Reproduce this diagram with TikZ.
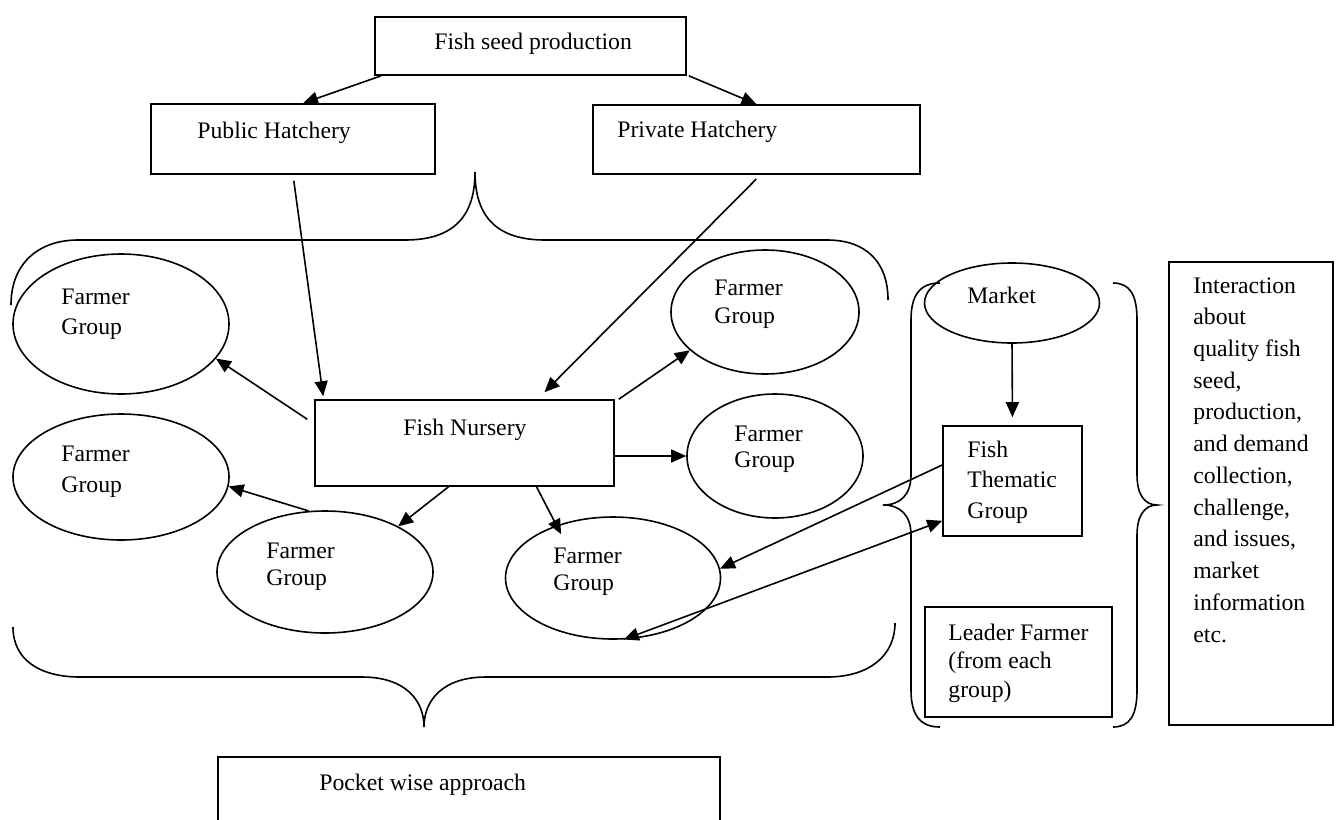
\documentclass[tikz,border=0pt]{standalone}
\usepackage{fontspec}
\setmainfont{Liberation Serif}
\usetikzlibrary{arrows.meta,shapes.geometric,calc}
\begin{document}
\begin{tikzpicture}[x=0.5pt,y=-0.5pt,
  box/.style={draw, line width=0.8pt, rectangle, inner sep=0pt},
  ell/.style={draw, line width=0.8pt, ellipse, inner sep=0pt},
  lbl/.style={anchor=base west, inner sep=0pt, align=left, font=\fontsize{11.85pt}{#1}\selectfont},
  lbl/.default=14.5pt,
  arr/.style={line width=0.8pt, -{Triangle[length=7.5pt,width=6.5pt]}},
  darr/.style={line width=0.8pt, {Triangle[length=7.5pt,width=6.5pt]}-{Triangle[length=7.5pt,width=6.5pt]}},
  brace/.style={line width=0.8pt}]
\useasboundingbox (0,0) rectangle (1336,819);
\fill[white] (0,0) rectangle (1336,819);
\clip (0,0) rectangle (1336,819);

% boxes
\node[box, minimum width=155.5pt, minimum height=29pt] (seed) at (530.5,46) {};
\node[lbl] at (434,49) {Fish seed production};
\node[box, minimum width=142pt, minimum height=35pt] (pub) at (293,139) {};
\node[lbl] at (197,138) {Public Hatchery};
\node[box, minimum width=163.5pt, minimum height=34.5pt] (priv) at (756.5,139.5) {};
\node[lbl] at (617,137) {Private Hatchery};
\node[box, minimum width=149.5pt, minimum height=43pt] (nur) at (464.5,443) {};
\node[lbl] at (403,435) {Fish Nursery};

% farmer groups (base anchor = last line)
\node[ell, minimum width=108pt, minimum height=70pt] (fg1) at (121,324) {};
\node[lbl=15pt] at (61,334) {Farmer\\Group};
\node[ell, minimum width=94pt, minimum height=62pt] (fg2) at (765,312) {};
\node[lbl=14pt] at (714,323) {Farmer\\Group};
\node[ell, minimum width=108pt, minimum height=63pt] (fg3) at (121,477) {};
\node[lbl=15.5pt] at (61,492) {Farmer\\Group};
\node[ell, minimum width=88pt, minimum height=62pt] (fg4) at (775,456) {};
\node[lbl=13pt] at (734,467) {Farmer\\Group};
\node[ell, minimum width=108pt, minimum height=61pt] (fg5) at (325,572) {};
\node[lbl=13.5pt] at (266,585) {Farmer\\Group};
\node[ell, minimum width=107.5pt, minimum height=61pt] (fg6) at (613,578) {};
\node[lbl=13.5pt] at (553,590) {Farmer\\Group};

% right column
\node[ell, minimum width=87.5pt, minimum height=40pt] (market) at (1012,303) {};
\node[lbl] at (967,303) {Market};
\node[box, minimum width=69.5pt, minimum height=55pt] (ftg) at (1012.5,481) {};
\node[lbl=15.25pt] at (967,518) {Fish\\Thematic\\Group};
\node[box, minimum width=93.5pt, minimum height=55pt] (leader) at (1018.5,662) {};
\node[lbl=14.25pt] at (948,697) {Leader Farmer\\(from each\\group)};
\node[box, minimum width=82pt, minimum height=231.5pt] (inter) at (1251,493.5) {};
\node[lbl=15.86pt] at (1193,642) {Interaction\\about\\quality fish\\seed,\\production,\\and demand\\collection,\\challenge,\\and issues,\\market\\information\\etc.};

% pocket
\node[box, minimum width=251pt, minimum height=46.5pt] (pocket) at (469,803.5) {};
\node[lbl] at (319,790) {Pocket wise approach};

% braces
\draw[brace] (11,305) .. controls (11,262) and (40,240) .. (78,240) -- (405,240)
  .. controls (455,240) and (475,215) .. (475,172)
  .. controls (475,215) and (495,240) .. (545,240) -- (827,240)
  .. controls (866,240) and (888,262) .. (888,300);
\draw[brace] (13,627) .. controls (13,660) and (40,677) .. (80,677) -- (362,677)
  .. controls (405,677) and (424,700) .. (424,727)
  .. controls (424,700) and (443,677) .. (486,677) -- (827,677)
  .. controls (870,677) and (895,655) .. (895,623);
\draw[brace] (940,283) .. controls (920,283) and (911,295) .. (911,320) -- (911,475)
  .. controls (911,495) and (900,505) .. (883,505)
  .. controls (900,505) and (911,515) .. (911,535) -- (911,690)
  .. controls (911,715) and (920,727) .. (940,727);
\draw[brace] (1113,283) .. controls (1130,283) and (1137,295) .. (1137,320) -- (1137,475)
  .. controls (1137,495) and (1145,505) .. (1157,505)
  .. controls (1145,505) and (1137,515) .. (1137,535) -- (1137,690)
  .. controls (1137,715) and (1130,727) .. (1113,727);

% connectors
\draw[arr] ([xshift=3.5pt]seed.south west) -- ([xshift=5pt]pub.north);
\draw[arr] ([xshift=1pt]seed.south east) -- (priv.north);
\draw[arr, shorten <=3pt] (pub.south) -- ([xshift=4.5pt,yshift=1.5pt]nur.north west);
\draw[arr, shorten <=3pt] ([xshift=2pt]priv.south) -- ([xshift=40pt,yshift=3.5pt]nur.north);
\draw[arr] ([shift={(-3.5pt,-10pt)}]nur.north west) -- (fg1.-20);
\draw[arr] ([xshift=2pt]nur.north east) -- (fg2.207);
\draw[arr] ([yshift=-6.5pt]nur.east) -- (fg4.west);
\draw[arr] ([xshift=-8pt]nur.south) -- (fg5.32);
\draw[arr, shorten >=-5pt] ([xshift=36pt]nur.south) -- (fg6.137);
\draw[arr] (fg5.105) -- (fg3.-5);
\draw[arr] ([yshift=8pt]ftg.west) -- (fg6.5);
\draw[darr] (fg6.-80) -- ([yshift=8pt]ftg.south west);
\draw[arr, shorten >=4pt] (market.south) -- (ftg.north);
\end{tikzpicture}
\end{document}
